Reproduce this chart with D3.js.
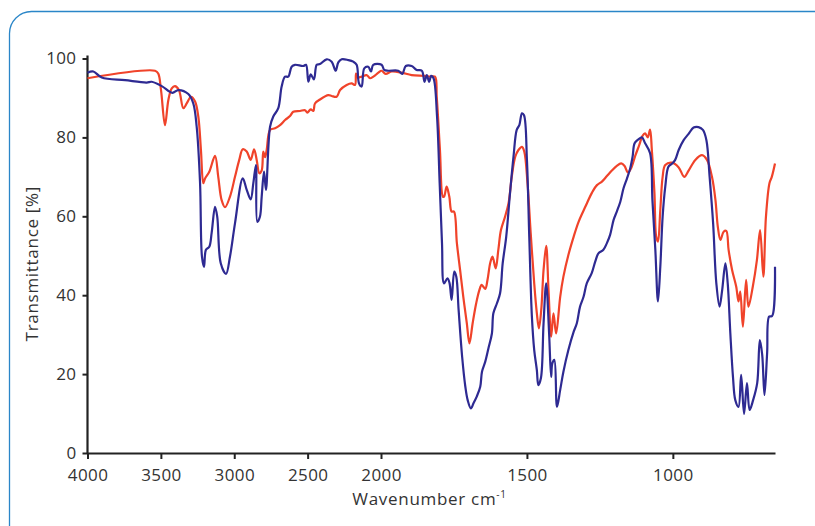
<!DOCTYPE html>
<html>
<head>
<meta charset="utf-8">
<script src="https://cdn.jsdelivr.net/npm/d3@7"></script>
<style>
  body { margin: 0; background: #fff; }
  .tick text { font-family: "Open Sans", sans-serif; font-size: 17px; letter-spacing: 0.4px; fill: #333; }
  .axisText { font-family: "Open Sans", sans-serif; font-size: 17px; letter-spacing: 0.7px; fill: #333; }
</style>
</head>
<body>
<div id="plot"></div>
<script>
// x ticks (wavenumber, cm-1) and y ticks (transmittance %)
var xTicks = [4000, 3500, 3000, 2500, 2000, 1500, 1000];
var yTicks = [0, 20, 40, 60, 80, 100];

// red spectrum
var redWave = [4000, 3540, 3518, 3499, 3472, 3449, 3426, 3404, 3377, 3347, 3324, 3295, 3267, 3245, 3227, 3211, 3199, 3170, 3131, 3109, 3086, 3063, 3029, 2995, 2966, 2942, 2915, 2888, 2865, 2847, 2829, 2813, 2802, 2790, 2779, 2756, 2722, 2688, 2654, 2620, 2598, 2552, 2518, 2502, 2479, 2461, 2450, 2416, 2359, 2336, 2302, 2279, 2234, 2200, 2177, 2170, 2159, 2132, 2098, 2075, 2052, 2018, 1998, 1984, 1963, 1929, 1895, 1849, 1832, 1815, 1809, 1798, 1788, 1784, 1775, 1766, 1758, 1750, 1740, 1729, 1718, 1706, 1697, 1686, 1674, 1663, 1655, 1643, 1635, 1626, 1618, 1607, 1598, 1589, 1575, 1563, 1552, 1540, 1529, 1517, 1509, 1498, 1487, 1475, 1466, 1459, 1451, 1443, 1434, 1426, 1417, 1409, 1400, 1386, 1375, 1358, 1340, 1323, 1300, 1277, 1260, 1243, 1226, 1209, 1192, 1177, 1166, 1154, 1143, 1129, 1115, 1104, 1095, 1086, 1078, 1072, 1063, 1057, 1051, 1043, 1035, 1026, 1003, 980, 961, 946, 923, 900, 883, 866, 854, 846, 837, 826, 817, 809, 797, 783, 775, 769, 760, 749, 741, 726, 712, 701, 690, 681, 669, 661, 650];
var redTrans = [95.0, 96.9, 96.2, 92.0, 83.1, 89.5, 92.4, 93.0, 92.0, 87.4, 88.6, 90.3, 89.1, 85.3, 76.8, 68.4, 69.6, 71.3, 75.3, 70.0, 64.1, 62.3, 65.0, 70.0, 74.3, 77.0, 76.4, 74.3, 77.0, 74.3, 70.9, 71.6, 76.4, 75.0, 76.8, 81.9, 82.3, 83.1, 84.4, 85.4, 86.5, 86.7, 86.9, 86.3, 87.1, 86.7, 88.6, 89.6, 90.7, 90.5, 90.3, 92.0, 93.3, 93.7, 93.3, 96.2, 95.2, 95.4, 95.8, 95.0, 95.4, 96.4, 96.9, 96.1, 96.7, 96.4, 95.8, 95.6, 95.4, 95.4, 90.3, 76.8, 65.0, 65.0, 67.5, 65.0, 61.2, 61.2, 53.2, 46.4, 39.6, 32.9, 27.8, 32.9, 37.9, 41.3, 42.6, 41.6, 43.9, 48.1, 49.8, 46.8, 51.5, 56.5, 59.9, 63.3, 70.0, 75.1, 76.8, 77.6, 76.4, 68.4, 55.7, 43.0, 35.4, 31.6, 36.2, 46.4, 52.5, 41.3, 29.5, 35.4, 30.3, 39.6, 44.7, 50.2, 54.8, 58.6, 62.4, 66.0, 67.9, 68.8, 70.2, 71.6, 72.8, 73.4, 72.8, 71.1, 72.2, 75.3, 78.1, 80.4, 81.0, 80.0, 82.0, 76.8, 65.8, 54.8, 53.6, 61.6, 70.0, 73.0, 73.6, 72.4, 70.0, 71.6, 74.3, 75.5, 74.3, 70.0, 64.1, 57.4, 54.0, 56.1, 56.3, 51.5, 46.4, 42.2, 38.4, 40.9, 32.0, 43.9, 37.1, 42.2, 48.9, 56.5, 44.7, 59.9, 68.4, 70.0, 73.4];

// blue spectrum
var blueWave = [4000, 3960, 3903, 3744, 3597, 3563, 3494, 3422, 3381, 3313, 3279, 3256, 3233, 3220, 3206, 3193, 3170, 3154, 3131, 3116, 3092, 3056, 3029, 2995, 2942, 2915, 2888, 2870, 2852, 2843, 2825, 2813, 2797, 2784, 2756, 2734, 2700, 2677, 2654, 2632, 2609, 2586, 2530, 2511, 2495, 2479, 2457, 2438, 2416, 2370, 2336, 2309, 2291, 2268, 2223, 2189, 2166, 2150, 2132, 2114, 2087, 2068, 2053, 1998, 1989, 1975, 1941, 1927, 1915, 1895, 1878, 1860, 1851, 1843, 1835, 1828, 1820, 1808, 1799, 1791, 1784, 1772, 1765, 1758, 1749, 1742, 1734, 1722, 1711, 1703, 1692, 1683, 1672, 1660, 1654, 1643, 1632, 1620, 1615, 1603, 1592, 1583, 1571, 1558, 1546, 1535, 1526, 1517, 1510, 1500, 1492, 1483, 1475, 1466, 1461, 1452, 1443, 1434, 1424, 1417, 1413, 1406, 1397, 1386, 1375, 1358, 1340, 1329, 1318, 1306, 1295, 1278, 1266, 1255, 1238, 1226, 1215, 1203, 1192, 1180, 1169, 1157, 1146, 1138, 1131, 1118, 1106, 1095, 1078, 1070, 1060, 1051, 1043, 1035, 1026, 1015, 1003, 992, 980, 963, 946, 929, 912, 897, 885, 874, 862, 851, 840, 831, 820, 812, 803, 794, 786, 775, 766, 756, 746, 737, 725, 711, 702, 694, 686, 677, 670, 660, 650];
var blueTrans = [96.4, 96.7, 95.2, 94.5, 93.9, 94.1, 93.0, 91.3, 92.0, 91.0, 88.6, 82.7, 68.4, 49.8, 47.2, 51.5, 52.3, 55.8, 62.4, 59.9, 48.1, 45.4, 49.8, 58.2, 69.6, 66.7, 64.3, 68.4, 73.0, 58.6, 59.9, 65.0, 71.3, 66.7, 82.7, 85.3, 87.4, 92.9, 95.4, 95.4, 97.9, 98.4, 98.1, 98.4, 94.1, 96.0, 94.7, 98.4, 98.6, 99.8, 99.2, 96.9, 99.0, 99.8, 99.6, 99.2, 98.4, 93.7, 92.9, 97.5, 97.9, 96.7, 98.4, 98.4, 97.1, 96.9, 96.9, 96.1, 98.1, 98.1, 97.1, 96.9, 94.1, 95.8, 94.1, 95.6, 95.0, 85.3, 68.4, 53.2, 43.0, 44.3, 43.0, 38.8, 46.0, 44.7, 36.2, 24.4, 16.8, 13.4, 11.3, 12.6, 14.3, 16.8, 20.6, 23.1, 26.5, 30.3, 35.4, 37.9, 40.5, 48.1, 54.8, 65.8, 75.1, 81.9, 83.1, 86.1, 85.6, 74.3, 54.8, 34.6, 26.1, 21.0, 17.2, 19.0, 32.9, 43.0, 30.3, 19.3, 22.7, 23.6, 11.7, 16.0, 20.6, 26.1, 30.7, 32.9, 37.1, 39.6, 43.0, 45.6, 48.5, 50.6, 51.5, 53.2, 55.3, 59.1, 61.2, 63.7, 67.1, 69.6, 72.2, 75.1, 78.5, 79.5, 80.0, 78.5, 76.0, 64.1, 51.5, 38.4, 47.2, 59.9, 67.5, 72.6, 73.3, 74.3, 76.8, 79.3, 80.9, 82.5, 82.6, 81.9, 79.3, 70.0, 58.2, 43.0, 37.1, 41.3, 48.1, 43.0, 30.3, 19.3, 13.4, 11.7, 19.8, 9.9, 17.7, 10.9, 13.4, 17.7, 28.6, 25.0, 14.7, 25.3, 34.6, 34.7, 47.2];

var svgWidth = 815;
var svgHeight = 526;

var margin = {
  top: 58.5,
  right: 40,
  bottom: 73,
  left: 87.5
};

var width = svgWidth - margin.left - margin.right;
var height = svgHeight - margin.top - margin.bottom;

var svg = d3.select("#plot")
  .append("svg")
  .attr("width", svgWidth)
  .attr("height", svgHeight);

// rounded frame
svg.append("rect")
  .attr("x", 9.5)
  .attr("y", 11.5)
  .attr("width", 830)
  .attr("height", 540)
  .attr("rx", 22)
  .attr("fill", "none")
  .attr("stroke", "#2a86c8")
  .attr("stroke-width", 1.3);

var chartGroup = svg.append("g")
  .attr("transform", `translate(${margin.left}, ${margin.top})`);

// wavenumber axis: 4000-2000 compressed, 2000-650 expanded
var xScale = d3.scaleLinear()
  .domain([4000, 2000, 650])
  .range([0, 293.5, width]);

var yScale = d3.scaleLinear()
  .domain([0, 100])
  .range([height, 0]);

var bottomAxis = d3.axisBottom(xScale)
  .tickValues(xTicks)
  .tickFormat(d3.format("d"))
  .tickSize(6)
  .tickSizeOuter(0)
  .tickPadding(10);

var leftAxis = d3.axisLeft(yScale)
  .tickValues(yTicks)
  .tickFormat(d3.format("d"))
  .tickSize(5)
  .tickSizeOuter(0)
  .tickPadding(6);

var xAxisG = chartGroup.append("g")
  .attr("transform", `translate(0, ${height})`)
  .call(bottomAxis);

var yAxisG = chartGroup.append("g")
  .call(leftAxis);

[xAxisG, yAxisG].forEach(function (g) {
  g.select(".domain").attr("stroke", "#222").attr("stroke-width", 2.2);
  g.selectAll(".tick line").attr("stroke", "#222").attr("stroke-width", 2);
});
yAxisG.select(".domain").attr("d", `M0,${height}V-3`);

var redData = redWave.map((w, i) => ({ w: w, t: redTrans[i] }));
var blueData = blueWave.map((w, i) => ({ w: w, t: blueTrans[i] }));

var line = d3.line()
  .x(d => xScale(d.w))
  .y(d => yScale(d.t))
  .curve(d3.curveCatmullRom.alpha(0.5));

chartGroup.append("path")
  .datum(redData)
  .attr("fill", "none")
  .attr("stroke", "#f0432a")
  .attr("stroke-width", 2.2)
  .attr("stroke-linejoin", "round")
  .attr("d", line);

chartGroup.append("path")
  .datum(blueData)
  .attr("fill", "none")
  .attr("stroke", "#2e2a92")
  .attr("stroke-width", 2.2)
  .attr("stroke-linejoin", "round")
  .attr("d", line);

chartGroup.append("text")
  .attr("transform", "rotate(-90)")
  .attr("x", -(height * 0.52))
  .attr("y", -margin.left + 38)
  .attr("text-anchor", "middle")
  .attr("class", "axisText")
  .text("Transmittance [%]");

var xLabel = chartGroup.append("text")
  .attr("x", 342)
  .attr("y", height + 52)
  .attr("text-anchor", "middle")
  .attr("class", "axisText");
xLabel.append("tspan").text("Wavenumber cm");
xLabel.append("tspan")
  .attr("dy", -7)
  .attr("font-size", "10px")
  .text("-1");
</script>
</body>
</html>
